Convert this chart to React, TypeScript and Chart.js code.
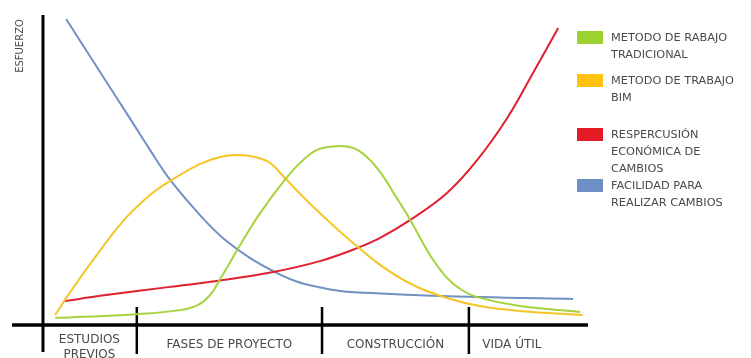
import React, { useEffect, useRef } from "react";
import { Chart, registerables } from "chart.js";

Chart.register(...registerables);

// ---- data (x: project time 0..100, y: effort 0..100) ----
const traditionalX = [2.4, 17.3, 25.2, 28.5, 30.7, 32.5, 36.7, 39.8, 44.3, 47.1, 50.2, 53.8, 56.8, 59.3, 61.7, 64.4, 67.2, 70.8, 73.9, 76.6, 79.4, 87.2, 98.2];
const traditionalY = [2.3, 3.5, 4.8, 6.5, 9.7, 14.8, 27.4, 36.1, 46.8, 52.3, 56.5, 57.7, 57.1, 54.2, 49.4, 41.9, 33.9, 22.6, 15.2, 11.3, 9.0, 6.1, 4.2];

const bimX = [2.4, 4.2, 8.8, 14.8, 19.7, 23.4, 28.8, 32.5, 35.6, 38.9, 41.6, 43.8, 47.1, 50.7, 55.7, 61.7, 67.7, 73.9, 79.9, 87.2, 98.7];
const bimY = [3.2, 8.1, 19.7, 33.5, 41.9, 46.5, 51.9, 54.2, 54.8, 54.2, 52.3, 48.4, 42.3, 36.1, 28.1, 19.4, 12.9, 8.7, 6.1, 4.5, 3.2];

const costX = [4.2, 10.6, 23.4, 31.9, 42.2, 50.7, 57.5, 61.7, 67.2, 73.9, 79.4, 84.9, 89.6, 94.2];
const costY = [7.7, 9.4, 12.3, 14.2, 17.1, 20.6, 24.8, 28.1, 33.9, 42.6, 53.2, 66.8, 81.3, 95.8];

const easeX = [4.4, 10.6, 16.1, 19.7, 23.4, 28.8, 33.0, 38.0, 42.2, 46.2, 50.2, 54.4, 61.7, 79.9, 96.9];
const easeY = [98.7, 81.6, 66.5, 56.5, 46.8, 35.5, 28.1, 21.6, 17.4, 14.2, 12.3, 11.0, 10.2, 9.0, 8.4];

// phase boundaries along the time axis and their labels
const phaseBounds = [0, 17.3, 51.1, 77.9, 93.6];
const phaseLabels = [["ESTUDIOS", "PREVIOS"], ["FASES DE PROYECTO"], ["CONSTRUCCIÓN"], ["VIDA ÚTIL"]];

const yAxisTitle = "ESFUERZO";

const seriesNames = [
  ["METODO DE RABAJO", "TRADICIONAL"],
  ["METODO DE TRABAJO", "BIM"],
  ["RESPERCUSIÓN", "ECONÓMICA DE", "CAMBIOS"],
  ["FACILIDAD PARA", "REALIZAR CAMBIOS"],
];
const lineColors = ["#a6d33c", "#f5c526", "#e0202e", "#7191c2"];
const legendColors = ["#9dd12f", "#ffc20e", "#e31b25", "#6e8fc6"];

const zip = (xs: number[], ys: number[]) => xs.map((x, i) => ({ x, y: ys[i] }));

const TEXT = "#4a4a4a";
const FONT = '"DejaVu Sans", sans-serif';

const decorPlugin = {
  id: "decor",
  beforeDatasetsDraw(chart: any) {
    const { ctx } = chart;
    const xs = chart.scales.x;
    const ys = chart.scales.y;
    const x0 = xs.getPixelForValue(0) + 1;
    const y0 = ys.getPixelForValue(0);
    ctx.save();
    ctx.strokeStyle = "#000";
    ctx.lineCap = "butt";
    // y axis
    ctx.lineWidth = 3;
    ctx.beginPath();
    ctx.moveTo(x0, ys.getPixelForValue(100));
    ctx.lineTo(x0, y0 + 27);
    ctx.stroke();
    // x axis
    ctx.lineWidth = 3.5;
    ctx.beginPath();
    ctx.moveTo(x0 - 31, y0);
    ctx.lineTo(xs.getPixelForValue(100) - 2, y0);
    ctx.stroke();
    // phase dividers
    ctx.lineWidth = 2.5;
    for (let i = 1; i < phaseBounds.length - 1; i++) {
      const px = xs.getPixelForValue(phaseBounds[i]);
      ctx.beginPath();
      ctx.moveTo(px, y0 - 18);
      ctx.lineTo(px, y0 + 29);
      ctx.stroke();
    }
    ctx.restore();
  },
  afterDraw(chart: any) {
    const { ctx } = chart;
    const xs = chart.scales.x;
    const ys = chart.scales.y;
    const y0 = ys.getPixelForValue(0);
    ctx.save();
    ctx.fillStyle = TEXT;
    ctx.textAlign = "center";
    ctx.textBaseline = "middle";
    ctx.font = `12px ${FONT}`;
    for (let i = 0; i < phaseLabels.length; i++) {
      const cx = (xs.getPixelForValue(phaseBounds[i]) + xs.getPixelForValue(phaseBounds[i + 1])) / 2;
      const lines = phaseLabels[i];
      const startY = lines.length > 1 ? y0 + 15 : y0 + 20;
      lines.forEach((t, j) => ctx.fillText(t, cx, startY + j * 15));
    }
    // y axis title
    ctx.save();
    ctx.font = `10px ${FONT}`;
    ctx.translate(20, 46);
    ctx.rotate(-Math.PI / 2);
    ctx.fillText(yAxisTitle, 0, 0);
    ctx.restore();
    // legend
    const tops = [31, 74, 128, 179];
    ctx.textAlign = "left";
    ctx.font = `11.3px ${FONT}`;
    seriesNames.forEach((lines, i) => {
      ctx.fillStyle = legendColors[i];
      ctx.fillRect(577, tops[i], 26, 13);
      ctx.fillStyle = TEXT;
      lines.forEach((t, j) => ctx.fillText(t, 611, tops[i] + 7 + j * 17));
    });
    ctx.restore();
  },
};

export default function App() {
  const ref = useRef<HTMLCanvasElement | null>(null);
  useEffect(() => {
    document.body.style.margin = "0";
    const canvas = ref.current!;
    const mk = (label: string, data: any[], color: string) => ({
      label,
      data,
      borderColor: color,
      backgroundColor: color,
      borderWidth: 2,
      pointRadius: 0,
      showLine: true,
      fill: false,
      tension: 0.4,
    });
    const chart = new Chart(canvas, {
      type: "scatter",
      data: {
        datasets: [
          mk(seriesNames[0].join(" "), zip(traditionalX, traditionalY), lineColors[0]),
          mk(seriesNames[1].join(" "), zip(bimX, bimY), lineColors[1]),
          mk(seriesNames[2].join(" "), zip(costX, costY), lineColors[2]),
          mk(seriesNames[3].join(" "), zip(easeX, easeY), lineColors[3]),
        ],
      },
      options: {
        animation: false,
        responsive: false,
        devicePixelRatio: 1,
        layout: { padding: { left: 42, right: 161, top: 15, bottom: 33 } },
        scales: {
          x: { type: "linear", min: 0, max: 100, display: false },
          y: { type: "linear", min: 0, max: 100, display: false },
        },
        plugins: { legend: { display: false }, tooltip: { enabled: false } },
      },
      plugins: [decorPlugin],
    });
    return () => chart.destroy();
  }, []);
  return (
    <div style={{ width: 751, height: 358, background: "#fff" }}>
      <canvas ref={ref} width={751} height={358} style={{ display: "block" }} />
    </div>
  );
}
